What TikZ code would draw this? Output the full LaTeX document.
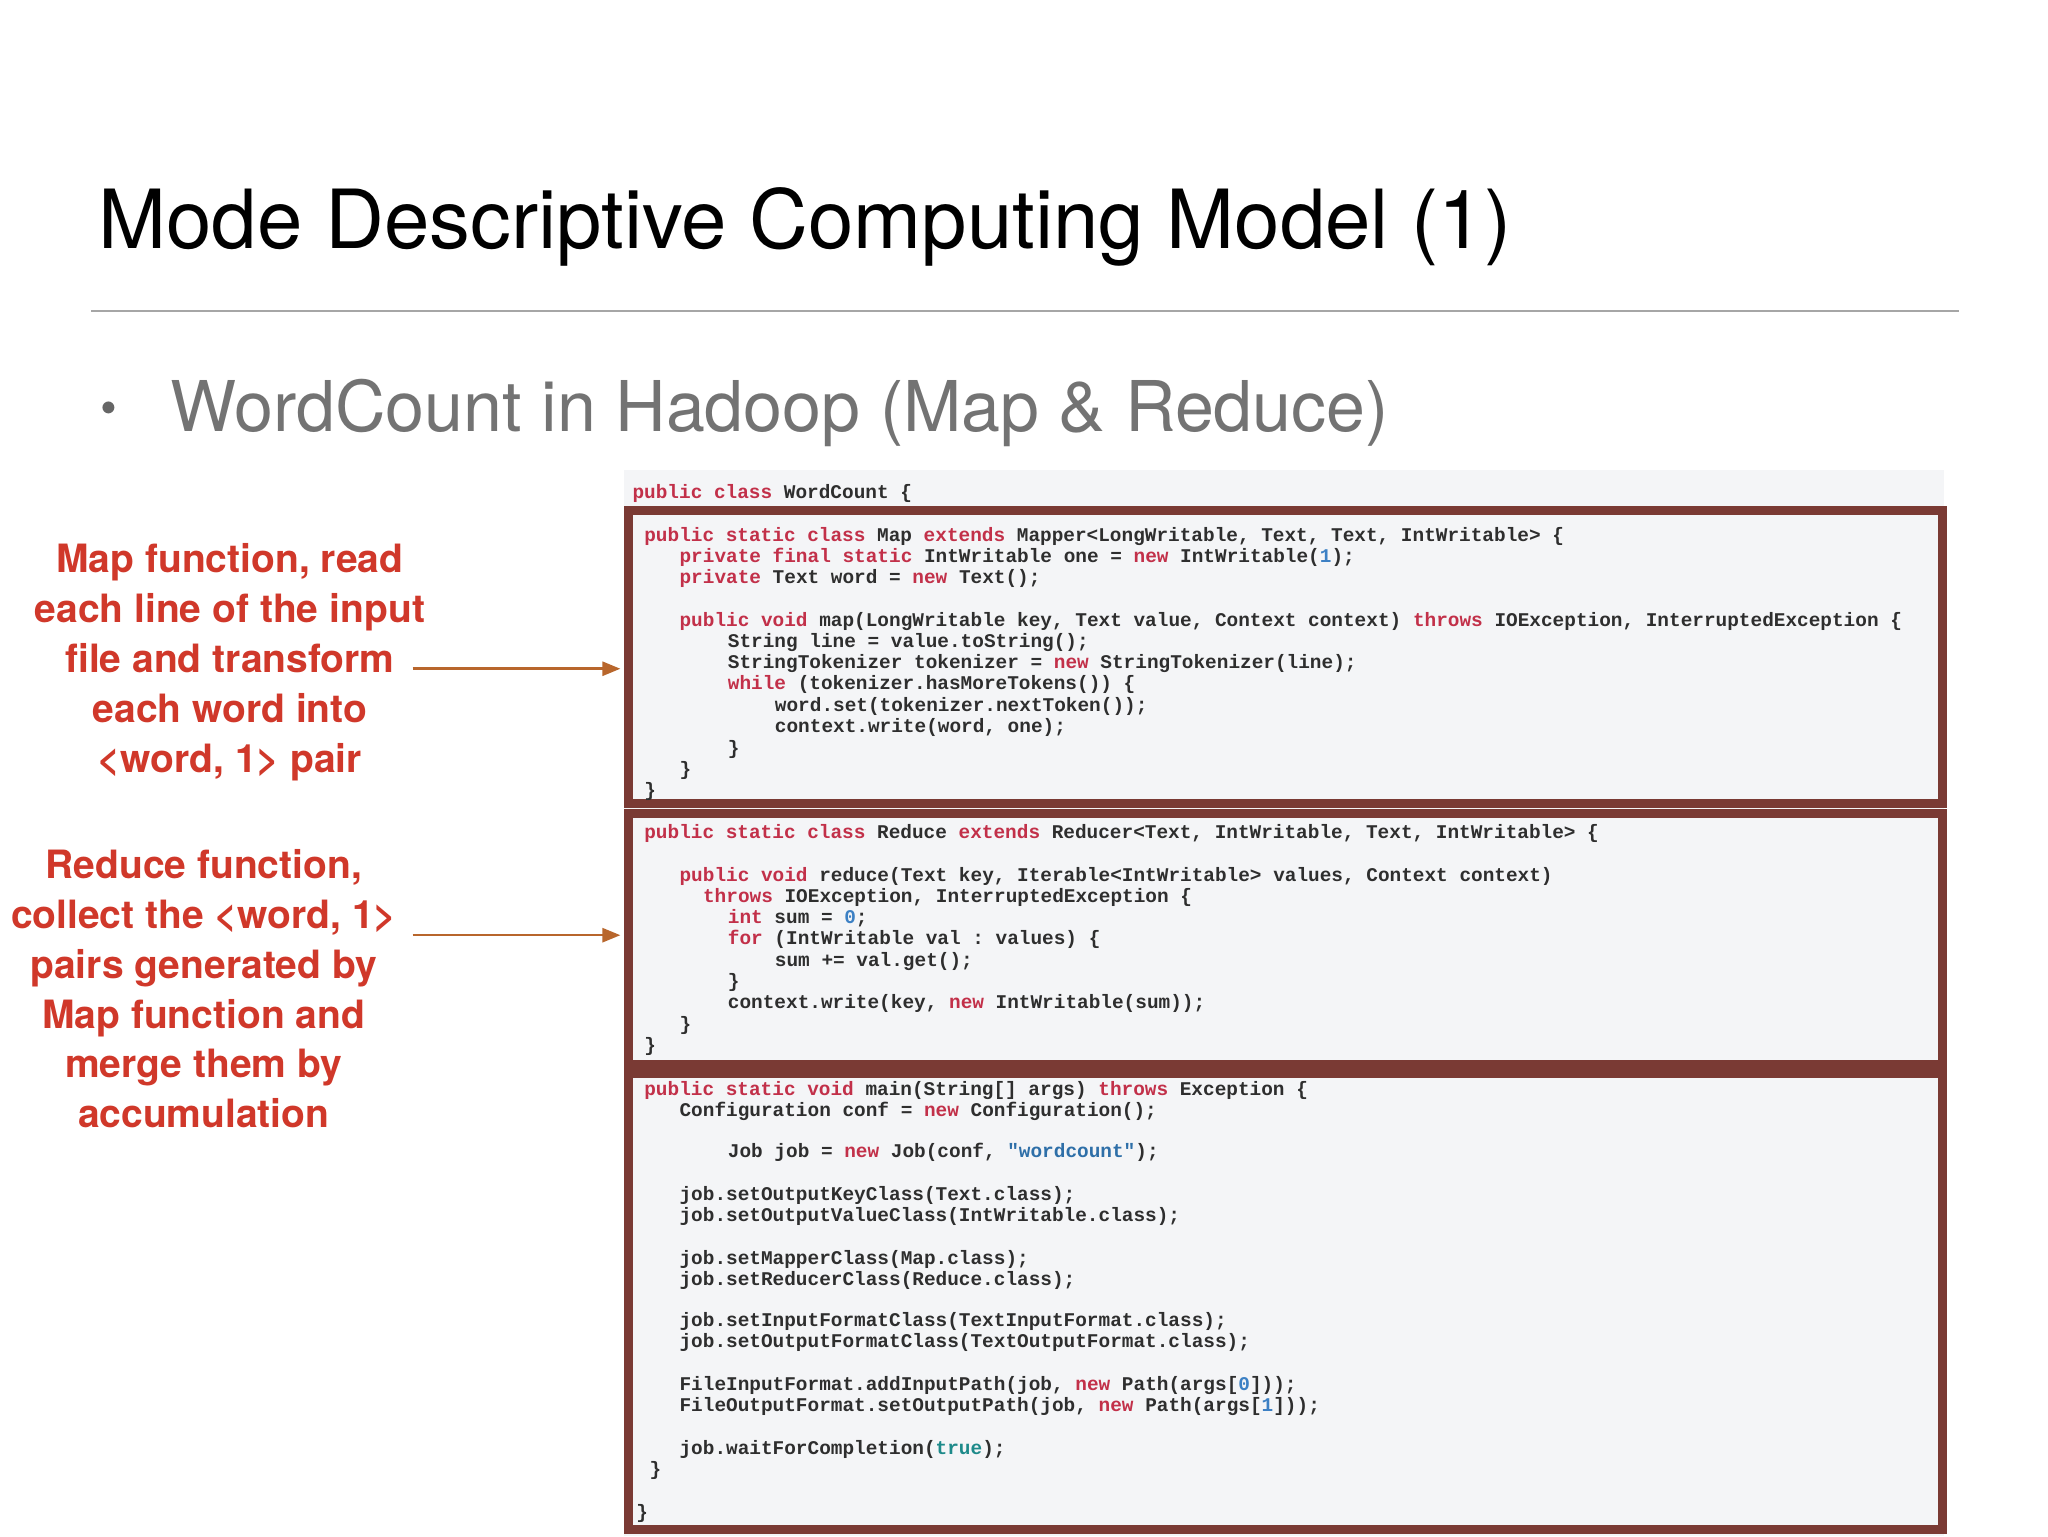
\documentclass[tikz,border=0pt]{standalone}
\usepackage{fontspec}
\setmainfont{TeX Gyre Heros}
\setmonofont{Liberation Mono}
\usetikzlibrary{arrows.meta}
\definecolor{kw}{HTML}{C23049}
\definecolor{num}{HTML}{3C80C4}
\definecolor{str}{HTML}{2E6FA8}
\definecolor{tru}{HTML}{1D8A8A}
\definecolor{code}{HTML}{2E2E2E}
\definecolor{boxc}{HTML}{7A3A34}
\definecolor{lbl}{HTML}{D0382A}
\definecolor{arr}{HTML}{B8662C}
\definecolor{bgc}{HTML}{F4F5F7}
\newcommand\kw[1]{\textcolor{kw}{#1}}
\newcommand\nm[1]{\textcolor{num}{#1}}
\tikzset{
 cl/.style={anchor=west,inner sep=0pt,font=\ttfamily\bfseries\fontsize{9.7}{10}\selectfont,text=code},
 lb/.style={align=center,text=lbl,font=\bfseries\fontsize{19.5}{24.9}\selectfont},
 cbox/.style={draw=boxc,line width=4.5pt},
 arrw/.style={draw=arr,line width=1.3pt,-{Triangle[length=9pt,width=7pt]}}
}
\begin{document}
\begin{tikzpicture}[x=0.65306pt,y=-0.65306pt]
\useasboundingbox (0,0) rectangle (1568,1176);
\fill[white] (0,0) rectangle (1568,1176);
\node[anchor=base west,inner sep=0pt,font=\fontsize{40.8}{45}\selectfont] (title) at (75,190) {Mode Descriptive Computing Model (1)};
\draw[gray!70,line width=0.8pt] (70,238) -- (1500,238);
\node[anchor=base west,inner sep=0pt,text=black!60,font=\fontsize{24}{28}\selectfont] (bul) at (77,325) {•};
\node[anchor=base west,inner sep=0pt,text=black!55,font=\fontsize{35}{40}\selectfont] (sub) at (130,330) {WordCount in Hadoop (Map \& Reduce)};
\fill[bgc] (478,360) rectangle (1488,1176);
\draw[cbox] (481,391) rectangle (1487,615);
\draw[cbox] (481,623) rectangle (1487,815);
\draw[cbox] (481,822) rectangle (1487,1171);
\node[cl] at (484,378) {\kw{public class} WordCount \{};
% Map
\node[cl] at (493,411) {\kw{public static class} Map \kw{extends} Mapper<LongWritable, Text, Text, IntWritable> \{};
\node[cl] at (520,427) {\kw{private final static} IntWritable one = \kw{new} IntWritable(\nm{1});};
\node[cl] at (520,443) {\kw{private} Text word = \kw{new} Text();};
\node[cl] at (520,476) {\kw{public void} map(LongWritable key, Text value, Context context) \kw{throws} IOException, InterruptedException \{};
\node[cl] at (557,492) {String line = value.toString();};
\node[cl] at (557,508) {StringTokenizer tokenizer = \kw{new} StringTokenizer(line);};
\node[cl] at (557,524) {\kw{while} (tokenizer.hasMoreTokens()) \{};
\node[cl] at (593,541) {word.set(tokenizer.nextToken());};
\node[cl] at (593,557) {context.write(word, one);};
\node[cl] at (557,574) {\}};
\node[cl] at (520,590) {\}};
\node[cl] at (493,606) {\}};
% Reduce
\node[cl] at (493,638) {\kw{public static class} Reduce \kw{extends} Reducer<Text, IntWritable, Text, IntWritable> \{};
\node[cl] at (520,671) {\kw{public void} reduce(Text key, Iterable<IntWritable> values, Context context)};
\node[cl] at (538,687) {\kw{throws} IOException, InterruptedException \{};
\node[cl] at (557,703) {\kw{int} sum = \nm{0};};
\node[cl] at (557,719) {\kw{for} (IntWritable val : values) \{};
\node[cl] at (593,736) {sum += val.get();};
\node[cl] at (557,752) {\}};
\node[cl] at (557,768) {context.write(key, \kw{new} IntWritable(sum));};
\node[cl] at (520,785) {\}};
\node[cl] at (493,801) {\}};
% main
\node[cl] at (493,835) {\kw{public static void} main(String[] args) \kw{throws} Exception \{};
\node[cl] at (520,851) {Configuration conf = \kw{new} Configuration();};
\node[cl] at (557,882) {Job job = \kw{new} Job(conf, \textcolor{str}{"wordcount"});};
\node[cl] at (520,915) {job.setOutputKeyClass(Text.class);};
\node[cl] at (520,931) {job.setOutputValueClass(IntWritable.class);};
\node[cl] at (520,964) {job.setMapperClass(Map.class);};
\node[cl] at (520,980) {job.setReducerClass(Reduce.class);};
\node[cl] at (520,1012) {job.setInputFormatClass(TextInputFormat.class);};
\node[cl] at (520,1028) {job.setOutputFormatClass(TextOutputFormat.class);};
\node[cl] at (520,1061) {FileInputFormat.addInputPath(job, \kw{new} Path(args[\nm{0}]));};
\node[cl] at (520,1077) {FileOutputFormat.setOutputPath(job, \kw{new} Path(args[\nm{1}]));};
\node[cl] at (520,1110) {job.waitForCompletion(\textcolor{tru}{true});};
\node[cl] at (497,1126) {\}};
\node[cl] at (487,1159) {\}};
% labels
\node[lb,anchor=center] (l1) at (176,507) {Map function, read\\each line of the input\\file and transform\\each word into\\<word, 1> pair};
\node[lb,anchor=center] (l2) at (156,757) {Reduce function,\\collect the <word, 1>\\pairs generated by\\Map function and\\merge them by\\accumulation};
\coordinate (a1s) at (316,512); \coordinate (a1e) at (475,512);
\coordinate (a2s) at (316,716); \coordinate (a2e) at (475,716);
\draw[arrw] (a1s) -- (a1e);
\draw[arrw] (a2s) -- (a2e);
\end{tikzpicture}
\end{document}
